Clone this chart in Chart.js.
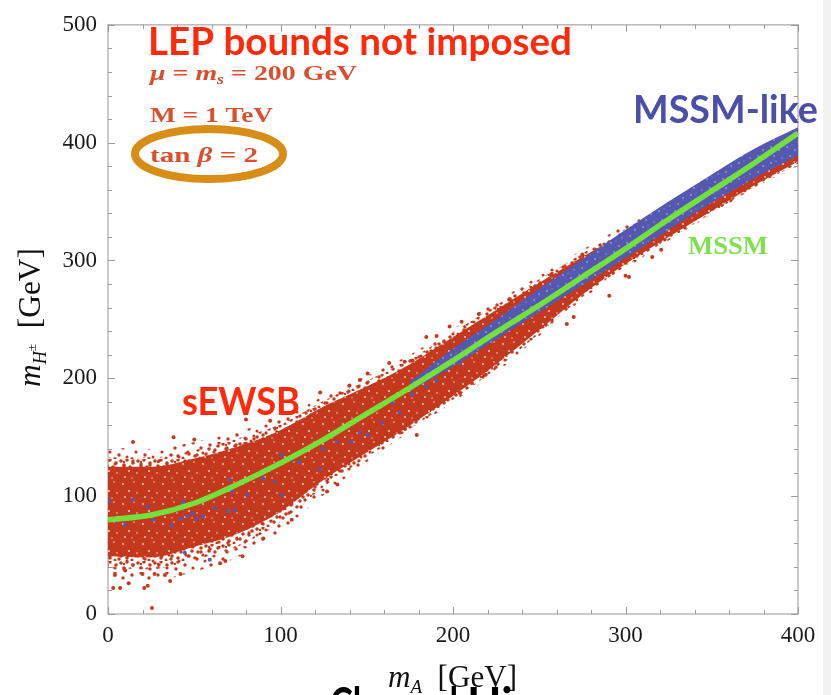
<!DOCTYPE html>
<html>
<head>
<meta charset="utf-8">
<script src="https://cdn.jsdelivr.net/npm/chart.js@4"></script>
<style>
  html, body { margin: 0; padding: 0; background: #fff; }
  canvas { display: block; }
</style>
</head>
<body>
<canvas id="higgsChart" width="831" height="695"></canvas>
<script>
// m_A sample points for the bands and the MSSM curve
const massA = [0, 25, 50, 75, 100, 125, 150, 175, 200, 225, 250, 275, 300, 325, 350, 375, 400];
const mssmCurve = [80, 84, 94, 110, 128, 148, 170, 192, 215, 239, 262, 286, 310, 335, 359, 383, 408];

// sEWSB scan: sparse fringe, medium ring and dense core of the cloud
const cloudOuterHigh = [141, 140, 146, 155, 166, 185, 202, 220, 242, 265, 287, 309, 330, 347, 369, 391, 410];
const cloudOuterLow = [30, 28, 36, 48, 70, 101, 129, 155, 180, 205, 236, 267, 293, 317, 339, 362, 380];
const cloudMidHigh = [133, 133, 139, 149, 161, 181, 198, 216, 239, 262, 284, 306, 327, 345, 367, 390, 408];
const cloudMidLow = [39, 38, 46, 57, 78, 108, 133, 157, 182, 208, 238, 269, 295, 318, 340, 363, 382];
const cloudCoreHigh = [125, 125, 132, 142, 156, 176, 193, 212, 235, 258, 281, 303, 324, 343, 365, 388, 406];
const cloudCoreLow = [49, 48, 57, 68, 87, 114, 137, 160, 185, 212, 241, 271, 297, 320, 342, 364, 384];

// MSSM-like points hugging the curve
const likeMassA = [175, 200, 225, 250, 275, 300, 325, 350, 375, 400];
const likeHigh = [197, 225, 250, 276, 301, 326, 350, 373, 395, 413];
const likeLow = [189, 210, 233, 256, 279, 302, 326, 349, 370, 389];

// isolated points outside / scattered in the cloud
const redStray = [
  [25.5, 5], [3, 22], [7, 22], [12, 26], [21, 22], [23, 24], [4, 33], [10, 37], [20, 34], [27, 34],
  [33, 33], [42, 34], [36, 28], [65, 43], [68, 45], [78, 49], [90, 64], [106.5, 80], [14.5, 146],
  [38, 150], [50, 148], [80, 165], [94, 164], [127, 104], [133, 110], [123, 188], [140, 194],
  [146, 198.5], [150.5, 204], [163, 213], [172, 214], [184.5, 235], [198, 244], [205, 248],
  [169, 154], [166, 154], [179, 152], [204, 187.6], [211, 196], [219, 203], [215, 254.6],
  [190.5, 236], [176.6, 215], [233, 267], [242.5, 240], [257, 288], [266, 246], [270, 252],
  [275, 305], [290.6, 270], [300, 287], [302, 286], [315.5, 303], [320.7, 309]
];
const blueStray = [
  [1, 96], [14.5, 97], [23, 91], [10, 76], [26, 80], [37, 75], [42, 81], [43.5, 95], [46, 83],
  [51.5, 81], [49, 85], [55, 83], [62, 90], [69.5, 87], [73.5, 88], [70.5, 114], [72, 104],
  [80.5, 101], [90, 115], [96.5, 112], [100.5, 135], [100.5, 101], [107, 131], [44.5, 52],
  [59, 46], [111, 129], [123, 123], [124.5, 140], [132.5, 146], [141, 146], [146, 154],
  [150.5, 152], [159, 162], [165, 179], [169, 171], [176.5, 186], [184.5, 193], [190.5, 198],
  [196, 207], [204, 213]
];

const xTicks = [0, 100, 200, 300, 400];
const yTicks = [0, 100, 200, 300, 400, 500];

const RED = '#c4391d';
const BLUE = '#5558b0';
const GREEN = '#74e03c';
const SERIF = '"Liberation Serif", "DejaVu Serif", serif';
const SANS = 'Lato, "Open Sans", sans-serif';

function toPoints(xs, ys) {
  return xs.map((x, i) => ({ x: x, y: ys[i] }));
}
function pairs(list) {
  return list.map(p => ({ x: p[0], y: p[1] }));
}

// small repeating tiles of dots to give the bands a scattered texture
function dotTile(size, bg, color, dots) {
  const c = document.createElement('canvas');
  c.width = c.height = size;
  const g = c.getContext('2d');
  if (bg) { g.fillStyle = bg; g.fillRect(0, 0, size, size); }
  g.fillStyle = color;
  dots.forEach(d => {
    g.beginPath();
    g.arc(d[0], d[1], d[2], 0, Math.PI * 2);
    g.fill();
  });
  return g.createPattern(c, 'repeat');
}

const sparseDots = dotTile(26, null, RED, [
  [2, 3, 1.7], [11, 1, 1.6], [19, 6, 1.7], [6, 10, 1.6], [15, 13, 1.7], [23, 15, 1.5],
  [3, 19, 1.7], [11, 22, 1.6], [20, 23, 1.7]
]);
const midDots = dotTile(17, null, RED, [
  [2, 2, 1.8], [8, 1, 1.7], [14, 4, 1.8], [5, 7, 1.8], [11, 8, 1.7], [16, 11, 1.6],
  [2, 12, 1.8], [8, 14, 1.8], [13, 16, 1.5], [5, 3, 1.2]
]);
const coreDots = dotTile(20, RED, 'rgba(255,235,225,0.85)', [
  [3, 4, 0.9], [14, 2, 0.8], [9, 11, 1.0], [17, 13, 0.8], [5, 17, 0.9], [12, 18, 0.7]
]);
const blueDots = dotTile(16, BLUE, 'rgba(160,160,220,0.9)', [
  [3, 3, 0.9], [11, 6, 0.9], [6, 12, 0.9], [14, 14, 0.8], [8, 1, 0.6]
]);

function band(points, fill, order) {
  return {
    type: 'line', data: points, order: order,
    borderWidth: 0, borderColor: 'transparent', pointRadius: 0,
    cubicInterpolationMode: 'monotone',
    fill: fill === null ? false : '+1', backgroundColor: fill || 'transparent'
  };
}

// draws a run of text pieces, squeezed/stretched to a given width
function drawRich(ctx, pieces, x, y, width, color) {
  ctx.save();
  ctx.fillStyle = color;
  ctx.textBaseline = 'alphabetic';
  ctx.textAlign = 'left';
  let total = 0;
  pieces.forEach(p => { ctx.font = p[1]; total += ctx.measureText(p[0]).width; });
  ctx.translate(x, y);
  if (width) ctx.scale(width / total, 1);
  let cx = 0;
  pieces.forEach(p => {
    ctx.font = p[1];
    ctx.fillText(p[0], cx, p[2] || 0);
    cx += ctx.measureText(p[0]).width;
  });
  ctx.restore();
}

const pagePlugin = {
  id: 'page',
  beforeDraw(chart) {
    const ctx = chart.ctx;
    ctx.save();
    ctx.fillStyle = '#ffffff';
    ctx.fillRect(0, 0, chart.width, chart.height);
    ctx.fillStyle = '#f2f2f2';
    ctx.fillRect(823, 0, chart.width - 823, chart.height);
    ctx.restore();
  }
};

const framePlugin = {
  id: 'frame',
  beforeDatasetsDraw(chart) {
    const ctx = chart.ctx;
    const a = chart.chartArea;
    const xs = chart.scales.x, ys = chart.scales.y;
    ctx.save();
    ctx.strokeStyle = '#b9b9b9';
    ctx.lineWidth = 1.5;
    ctx.strokeRect(a.left, a.top, a.right - a.left, a.bottom - a.top);
    ctx.strokeStyle = '#9a9a9a';
    ctx.lineWidth = 1;
    ctx.beginPath();
    for (let v = 0; v <= 400; v += 20) {
      const px = Math.round(xs.getPixelForValue(v)) + 0.5;
      const len = v % 100 === 0 ? 7 : 4;
      ctx.moveTo(px, a.bottom); ctx.lineTo(px, a.bottom - len);
      ctx.moveTo(px, a.top); ctx.lineTo(px, a.top + len);
    }
    for (let v = 0; v <= 500; v += 20) {
      const py = Math.round(ys.getPixelForValue(v)) + 0.5;
      const len = v % 100 === 0 ? 7 : 4;
      ctx.moveTo(a.left, py); ctx.lineTo(a.left + len, py);
      ctx.moveTo(a.right, py); ctx.lineTo(a.right - len, py);
    }
    ctx.stroke();
    ctx.restore();
  }
};

const labelPlugin = {
  id: 'labels',
  afterDraw(chart) {
    const ctx = chart.ctx;
    const par = '#d9502f';

    drawRich(ctx, [['LEP bounds not imposed', 'bold 38px ' + SANS]], 148, 55, 424, '#ff2a0a');
    drawRich(ctx, [
      ['\u03bc', 'italic bold 22px ' + SERIF],
      [' = ', 'bold 22px ' + SERIF],
      ['m', 'italic bold 22px ' + SERIF],
      ['s', 'italic bold 14px ' + SERIF, 4],
      [' = 200 GeV', 'bold 22px ' + SERIF]
    ], 150, 80, 207, par);
    drawRich(ctx, [['M = 1 TeV', 'bold 22px ' + SERIF]], 150, 122, 123, par);
    drawRich(ctx, [
      ['tan ', 'bold 22px ' + SERIF],
      ['\u03b2', 'italic bold 22px ' + SERIF],
      [' = 2', 'bold 22px ' + SERIF]
    ], 150, 162, 108, par);

    ctx.save();
    ctx.strokeStyle = '#d88d17';
    ctx.lineWidth = 8;
    ctx.beginPath();
    ctx.ellipse(209, 154, 74, 25, 0, 0, Math.PI * 2);
    ctx.stroke();
    ctx.restore();

    drawRich(ctx, [['MSSM-like', 'bold 39px ' + SANS]], 633, 123, 185, '#4b4fa8');
    drawRich(ctx, [['MSSM', 'bold 26px ' + SERIF]], 688, 254, 80, '#7ee04e');
    drawRich(ctx, [['sEWSB', 'bold 39px ' + SANS]], 182, 415, 118, '#ff2a0a');

    // axis titles
    ctx.save();
    ctx.translate(40, 387);
    ctx.rotate(-Math.PI / 2);
    drawRich(ctx, [
      ['m', 'italic 31px ' + SERIF],
      ['H', 'italic 18px ' + SERIF, 6],
      ['\u00b1', '13px ' + SERIF, -4],
      ['  [GeV]', '31px ' + SERIF]
    ], 0, 0, 139, '#111');
    ctx.restore();

    // slide title running off the bottom edge
    drawRich(ctx, [['Charged', 'bold 45px ' + SANS]], 330, 720, 128, '#000');
    drawRich(ctx, [['Higgs', 'bold 45px ' + SANS]], 467, 720, null, '#000');
    drawRich(ctx, [
      ['m', 'italic 31px ' + SERIF],
      ['A', 'italic 19px ' + SERIF, 6],
      ['  [GeV]', '31px ' + SERIF]
    ], 388, 687, 129, '#111');
  }
};

const tickFont = { family: SERIF, size: 23 };

new Chart(document.getElementById('higgsChart'), {
  type: 'scatter',
  data: {
    datasets: [
      band(toPoints(massA, cloudOuterHigh), sparseDots, 6),
      band(toPoints(massA, cloudOuterLow), null, 6),
      band(toPoints(massA, cloudMidHigh), midDots, 5),
      band(toPoints(massA, cloudMidLow), null, 5),
      band(toPoints(massA, cloudCoreHigh), coreDots, 4),
      band(toPoints(massA, cloudCoreLow), null, 4),
      {
        data: pairs(redStray), order: 3, pointRadius: 2, pointBorderWidth: 0,
        backgroundColor: RED, borderColor: RED
      },
      {
        data: pairs(blueStray), order: 2, pointRadius: 2, pointBorderWidth: 0,
        backgroundColor: BLUE, borderColor: BLUE
      },
      band(toPoints(likeMassA, likeHigh), blueDots, 1),
      band(toPoints(likeMassA, likeLow), null, 1),
      {
        type: 'line', data: toPoints(massA, mssmCurve), order: 0,
        borderColor: GREEN, borderWidth: 5.5, pointRadius: 0,
        cubicInterpolationMode: 'monotone', fill: false
      }
    ]
  },
  options: {
    responsive: false,
    animation: false,
    layout: { padding: { top: 17, right: 33, left: 0, bottom: 0 } },
    plugins: {
      legend: { display: false },
      tooltip: { enabled: false },
      filler: { propagate: false }
    },
    scales: {
      x: {
        type: 'linear', min: 0, max: 400,
        afterBuildTicks: s => { s.ticks = xTicks.map(v => ({ value: v })); },
        afterFit: s => { s.height = 81; },
        grid: { display: false, drawTicks: false },
        border: { display: false },
        ticks: { padding: 8, color: '#1a1a1a', font: tickFont, maxRotation: 0 }
      },
      y: {
        type: 'linear', min: 0, max: 500,
        afterBuildTicks: s => { s.ticks = yTicks.map(v => ({ value: v })); },
        afterFit: s => { s.width = 108; },
        grid: { display: false, drawTicks: false },
        border: { display: false },
        ticks: { padding: 11, color: '#1a1a1a', font: tickFont }
      }
    }
  },
  plugins: [pagePlugin, framePlugin, labelPlugin]
});
</script>
</body>
</html>
